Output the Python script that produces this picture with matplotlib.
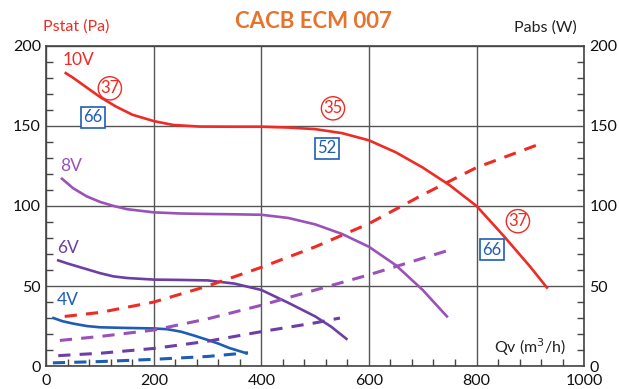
import matplotlib.pyplot as plt
from matplotlib.ticker import MultipleLocator

# curves: Qv (m3/h) -> Pstat (Pa) / Pabs (W)
q_10v = [36, 50, 75, 100, 130, 160, 200, 236, 286, 350, 400, 450, 500, 550, 600, 650, 700, 750, 800, 850, 900, 931]
p_10v = [183, 180, 174, 168, 162, 157, 153, 150.6, 149.6, 149.5, 149.5, 149, 148, 145.5, 141, 133.5, 124, 113, 100, 81.5, 62, 49]

q_8v = [29, 50, 75, 100, 125, 150, 200, 250, 300, 350, 400, 450, 500, 550, 600, 650, 700, 745]
p_8v = [117, 111, 106, 102.5, 100, 98, 96, 95.3, 95, 94.8, 94.5, 92.5, 88.5, 82.5, 74.5, 63, 47.5, 31]

q_6v = [22, 40, 60, 80, 100, 125, 150, 200, 250, 300, 350, 400, 450, 500, 530, 558]
p_6v = [66, 64, 62, 60, 58, 56, 55, 54, 53.8, 53.5, 51.5, 47.5, 39.5, 31, 24.5, 17]

q_4v = [13, 30, 50, 75, 100, 150, 200, 225, 250, 275, 300, 320, 340, 372]
p_4v = [30, 28, 26.5, 25, 24.2, 23.8, 23.5, 23, 21.5, 19, 16.3, 14, 11.3, 8]

# power (dashed)
qw_10v = [34, 100, 200, 300, 400, 500, 600, 700, 800, 912]
w_10v = [31, 33.5, 40, 50, 61.7, 74.5, 89, 107, 124, 138]

qw_8v = [25, 100, 200, 300, 400, 500, 600, 745]
w_8v = [16, 18.5, 22.5, 29.5, 38, 47.5, 57, 72]

qw_6v = [22, 100, 200, 300, 400, 500, 546]
w_6v = [6.5, 8, 11, 15.5, 21.5, 27, 30]

qw_4v = [12, 100, 200, 300, 375]
w_4v = [2, 2.8, 4.2, 6, 8.3]

RED = "#ee2b24"
PURPLE = "#9b52b8"
INDIGO = "#6c3fa6"
BLUE = "#1f5db4"

plt.rcParams['font.family'] = ['Lato', 'DejaVu Sans']

fig = plt.figure(figsize=(6.19, 3.89), dpi=100)
ax = fig.add_axes([0.075, 0.059, 0.8685, 0.823])

ax.plot(q_10v, p_10v, color=RED, lw=1.9)
ax.plot(q_8v, p_8v, color=PURPLE, lw=1.9)
ax.plot(q_6v, p_6v, color=INDIGO, lw=1.9)
ax.plot(q_4v, p_4v, color=BLUE, lw=1.9)

dash = (0, (4, 3))
ax.plot(qw_10v, w_10v, color=RED, lw=2.2, linestyle=dash)
ax.plot(qw_8v, w_8v, color=PURPLE, lw=2.2, linestyle=dash)
ax.plot(qw_6v, w_6v, color=INDIGO, lw=2.2, linestyle=dash)
ax.plot(qw_4v, w_4v, color=BLUE, lw=2.2, linestyle=dash)

ax.set_xlim(0, 1000)
ax.set_ylim(0, 200)
ax.xaxis.set_major_locator(MultipleLocator(200))
ax.xaxis.set_minor_locator(MultipleLocator(40))
ax.yaxis.set_major_locator(MultipleLocator(50))
ax.yaxis.set_minor_locator(MultipleLocator(10))
ax.grid(True, which='major', color='#555555', lw=1)
for s in ax.spines.values():
    s.set_color('#444444')
    s.set_linewidth(1.2)

ax.tick_params(which='major', length=0, labelsize=11.5, pad=4,
               left=True, right=True, labelright=True, labelcolor='#111111')
ax.tick_params(which='minor', direction='in', length=5, width=1, color='#444444',
               left=True, right=True, bottom=True, top=False)
ax.tick_params(axis='x', which='major', pad=6)

# voltage labels
ax.text(60, 191, "10V", color=RED, fontsize=12.5, ha='center', va='center')
ax.text(45, 125, "8V", color=PURPLE, fontsize=12.5, ha='center', va='center')
ax.text(40, 74, "6V", color=INDIGO, fontsize=12.5, ha='center', va='center')
ax.text(39, 41, "4V", color=BLUE, fontsize=12.5, ha='center', va='center')

# circled / boxed values
circ = dict(boxstyle='circle,pad=0.12', fc='white', ec=RED, lw=1)
box = dict(boxstyle='square,pad=0.15', fc='white', ec=BLUE, lw=1.2)
for x, y, t in [(118, 173.5, "37"), (533, 161, "35"), (877, 90.5, "37")]:
    ax.text(x, y, t, color=RED, fontsize=12, ha='center', va='center', bbox=circ)
for x, y, t in [(86.5, 155.5, "66"), (522, 136, "52"), (829, 72.5, "66")]:
    ax.text(x, y, t, color=BLUE, fontsize=12, ha='center', va='center', bbox=box)

ax.text(900, 11.5, "Qv (m$^3$/h)", fontsize=11.5, ha='center', va='center', color='#222222')

fig.text(313 / 619, 1 - 22 / 389, "CACB ECM 007", color="#e8732a", fontsize=16,
         fontweight='bold', ha='center', va='center')
fig.text(76 / 619, 1 - 27 / 389, "Pstat (Pa)", color=RED, fontsize=11.5, ha='center', va='center')
fig.text(545 / 619, 1 - 28 / 389, "Pabs (W)", color='#222222', fontsize=11.5, ha='center', va='center')

fig.savefig("out.png", dpi=100)
